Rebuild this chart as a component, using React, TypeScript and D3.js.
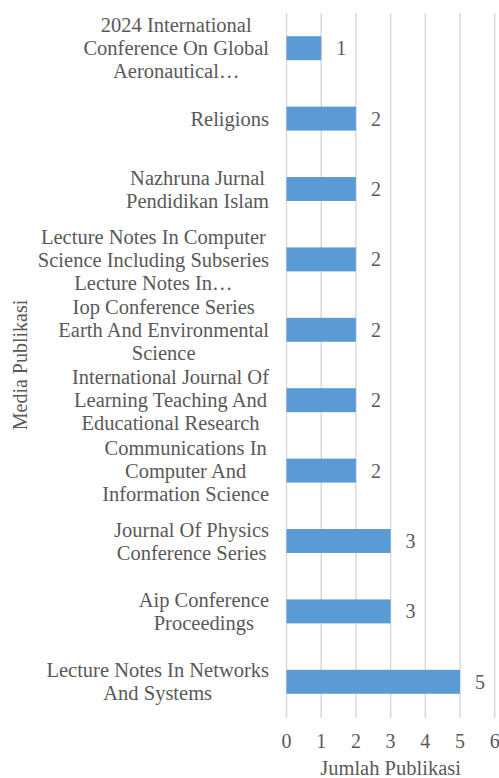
import * as d3 from "d3";
import { useEffect, useRef } from "react";

// categories, top to bottom (line breaks as shown in the chart)
const categories: string[] = [
    "2024 International\nConference On Global\nAeronautical…",
    "Religions",
    "Nazhruna Jurnal\nPendidikan Islam",
    "Lecture Notes In Computer\nScience Including Subseries\nLecture Notes In…",
    "Iop Conference Series\nEarth And Environmental\nScience",
    "International Journal Of\nLearning Teaching And\nEducational Research",
    "Communications In\nComputer And\nInformation Science",
    "Journal Of Physics\nConference Series",
    "Aip Conference\nProceedings",
    "Lecture Notes In Networks\nAnd Systems",
];
const values: number[] = [1, 2, 2, 2, 2, 2, 2, 3, 3, 5];
const xTicks: number[] = [0, 1, 2, 3, 4, 5, 6];

const xTitle = "Jumlah Publikasi";
const yTitle = "Media Publikasi";

export default function App() {
    const svgRef = useRef<SVGSVGElement | null>(null);
    const width = 499;
    const height = 778;

    useEffect(() => {
        const font = "'Liberation Serif', serif";
        const textColor = "#595959";
        const gridColor = "#d9d9d9";
        const barColor = "#5b9bd5";
        const fs = 20;

        const svg = d3.select(svgRef.current);
        svg.selectAll("*").remove();

        const x = d3.scaleLinear().domain([0, 6]).range([286.5, 494.7]);
        const y = d3
            .scaleBand()
            .domain(categories)
            .range([13, 717])
            .paddingInner(0.66)
            .paddingOuter(0.33);

        // grid
        svg.append("g")
            .selectAll("line")
            .data(xTicks)
            .enter()
            .append("line")
            .attr("x1", (d) => x(d))
            .attr("x2", (d) => x(d))
            .attr("y1", 13)
            .attr("y2", 718)
            .attr("stroke", gridColor)
            .attr("stroke-width", 1.5);

        // bars
        svg.append("g")
            .selectAll("rect")
            .data(values)
            .enter()
            .append("rect")
            .attr("x", x(0))
            .attr("y", (_, i) => y(categories[i])!)
            .attr("width", (d) => x(d) - x(0))
            .attr("height", y.bandwidth())
            .attr("fill", barColor);

        // value labels
        svg.append("g")
            .selectAll("text")
            .data(values)
            .enter()
            .append("text")
            .attr("x", (d) => x(d) + 15)
            .attr("y", (_, i) => y(categories[i])! + y.bandwidth() / 2)
            .attr("dy", "0.35em")
            .attr("font-family", font)
            .attr("font-size", fs)
            .attr("fill", textColor)
            .text((d) => d);

        // x tick labels
        svg.append("g")
            .selectAll("text")
            .data(xTicks)
            .enter()
            .append("text")
            .attr("x", (d) => x(d))
            .attr("y", 741)
            .attr("dy", "0.35em")
            .attr("text-anchor", "middle")
            .attr("font-family", font)
            .attr("font-size", fs)
            .attr("fill", textColor)
            .text((d) => d);

        // category labels, lines centred, block right aligned
        const labelRight = 269;
        const lineH = 23;
        categories.forEach((c) => {
            const lines = c.split("\n");
            const cy = y(c)! + y.bandwidth() / 2;
            const g = svg.append("g");
            const texts = g
                .selectAll("text")
                .data(lines)
                .enter()
                .append("text")
                .attr("y", (_, i) => cy + (i - (lines.length - 1) / 2) * lineH)
                .attr("dy", "0.35em")
                .attr("text-anchor", "middle")
                .attr("font-family", font)
                .attr("font-size", fs + 0.5)
                .attr("fill", textColor)
                .text((d) => d);
            let maxW = 0;
            texts.each(function () {
                maxW = Math.max(maxW, (this as SVGTextElement).getComputedTextLength());
            });
            texts.attr("x", labelRight - maxW / 2);
        });

        // axis titles
        svg.append("text")
            .attr("x", (x(0) + x(6)) / 2)
            .attr("y", 768)
            .attr("dy", "0.35em")
            .attr("text-anchor", "middle")
            .attr("font-family", font)
            .attr("font-size", fs + 0.5)
            .attr("fill", textColor)
            .text(xTitle);

        svg.append("text")
            .attr("transform", `translate(20,365) rotate(-90)`)
            .attr("dy", "0.35em")
            .attr("text-anchor", "middle")
            .attr("font-family", font)
            .attr("font-size", fs)
            .attr("fill", textColor)
            .text(yTitle);
    }, []);

    return (
        <svg
            ref={svgRef}
            width={width}
            height={height}
            style={{ position: "absolute", left: 0, top: 0, background: "#fff" }}
        ></svg>
    );
}
